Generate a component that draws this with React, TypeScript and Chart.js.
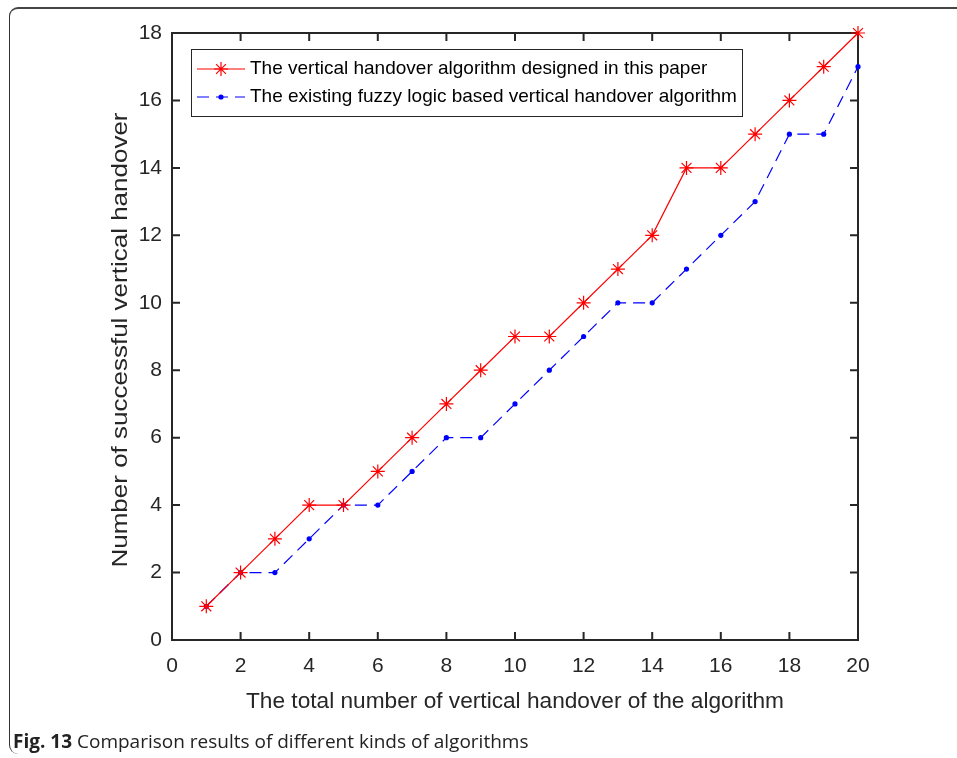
import React, { useEffect, useRef } from "react";
import { Chart, registerables } from "chart.js";

Chart.register(...registerables);

const xValues = [1, 2, 3, 4, 5, 6, 7, 8, 9, 10, 11, 12, 13, 14, 15, 16, 17, 18, 19, 20];
const proposedValues = [1, 2, 3, 4, 4, 5, 6, 7, 8, 9, 9, 10, 11, 12, 14, 14, 15, 16, 17, 18];
const existingValues = [1, 2, 2, 3, 4, 4, 5, 6, 6, 7, 8, 9, 10, 10, 11, 12, 13, 15, 15, 17];
const xTickValues = [0, 2, 4, 6, 8, 10, 12, 14, 16, 18, 20];
const yTickValues = [0, 2, 4, 6, 8, 10, 12, 14, 16, 18];

const proposedLabel = "The vertical handover algorithm designed in this paper";
const existingLabel = "The existing fuzzy logic based vertical handover algorithm";
const xTitle = "The total number of vertical handover of the algorithm";
const yTitle = "Number of successful vertical handover";

const AXIS_COLOR = "#262626";
const FONT = "'Liberation Sans', Arial, sans-serif";

const boxPlugin = {
  id: "matlabBox",
  beforeDatasetsDraw(chart: any) {
    const { ctx, chartArea, scales } = chart;
    const { left, right, top, bottom } = chartArea;
    ctx.save();
    ctx.strokeStyle = AXIS_COLOR;
    ctx.lineWidth = 2;
    ctx.strokeRect(left, top, right - left, bottom - top);
    const tl = 8;
    ctx.beginPath();
    xTickValues.forEach((v) => {
      const x = scales.x.getPixelForValue(v);
      ctx.moveTo(x, bottom);
      ctx.lineTo(x, bottom - tl);
      ctx.moveTo(x, top);
      ctx.lineTo(x, top + tl);
    });
    yTickValues.forEach((v) => {
      const y = scales.y.getPixelForValue(v);
      ctx.moveTo(left, y);
      ctx.lineTo(left + tl, y);
      ctx.moveTo(right, y);
      ctx.lineTo(right - tl, y);
    });
    ctx.stroke();

    // axis titles
    ctx.fillStyle = AXIS_COLOR;
    ctx.textAlign = "center";
    ctx.textBaseline = "middle";
    ctx.font = `22px ${FONT}`;
    const xw = ctx.measureText(xTitle).width;
    ctx.save();
    ctx.translate((left + right) / 2, 702);
    ctx.scale(538 / xw, 1);
    ctx.fillText(xTitle, 0, 0);
    ctx.restore();

    const yw = ctx.measureText(yTitle).width;
    ctx.save();
    ctx.translate(121, 340);
    ctx.rotate(-Math.PI / 2);
    ctx.scale(455 / yw, 1);
    ctx.fillText(yTitle, 0, 0);
    ctx.restore();
    ctx.restore();
  },
  afterDatasetsDraw(chart: any) {
    const { ctx } = chart;
    const bx = 191, by = 49, bw = 551, bh = 67;
    ctx.save();
    ctx.fillStyle = "#ffffff";
    ctx.fillRect(bx, by, bw, bh);
    ctx.strokeStyle = AXIS_COLOR;
    ctx.lineWidth = 1;
    ctx.strokeRect(bx + 0.5, by + 0.5, bw, bh);

    const r1 = 69, r2 = 97;
    // red row
    ctx.strokeStyle = "#ff0000";
    ctx.lineWidth = 1.2;
    ctx.beginPath();
    ctx.moveTo(197, r1);
    ctx.lineTo(245, r1);
    ctx.stroke();
    const cx = 221, r = 7;
    ctx.beginPath();
    ctx.moveTo(cx - r, r1);
    ctx.lineTo(cx + r, r1);
    ctx.moveTo(cx, r1 - r);
    ctx.lineTo(cx, r1 + r);
    const d = r * Math.SQRT1_2;
    ctx.moveTo(cx - d, r1 - d);
    ctx.lineTo(cx + d, r1 + d);
    ctx.moveTo(cx - d, r1 + d);
    ctx.lineTo(cx + d, r1 - d);
    ctx.stroke();
    // blue row
    ctx.strokeStyle = "#0000ff";
    ctx.setLineDash([12, 7]);
    ctx.beginPath();
    ctx.moveTo(197, r2);
    ctx.lineTo(245, r2);
    ctx.stroke();
    ctx.setLineDash([]);
    ctx.fillStyle = "#0000ff";
    ctx.beginPath();
    ctx.arc(cx, r2, 2.6, 0, Math.PI * 2);
    ctx.fill();

    ctx.fillStyle = "#000000";
    ctx.font = `19px ${FONT}`;
    ctx.textAlign = "left";
    ctx.textBaseline = "middle";
    ctx.fillText(proposedLabel, 250, r1);
    ctx.fillText(existingLabel, 250, r2);
    ctx.restore();
  },
};

export default function App() {
  const canvasRef = useRef<HTMLCanvasElement | null>(null);

  useEffect(() => {
    const canvas = canvasRef.current;
    if (!canvas) return;
    const chart = new Chart(canvas, {
      type: "line",
      data: {
        datasets: [
          {
            label: proposedLabel,
            data: xValues.map((x, i) => ({ x, y: proposedValues[i] })),
            borderColor: "#ff0000",
            backgroundColor: "#ff0000",
            borderWidth: 1.2,
            pointStyle: "star",
            pointRadius: 7,
            pointBorderWidth: 1.2,
            pointBorderColor: "#ff0000",
            tension: 0,
            clip: false as any,
          },
          {
            label: existingLabel,
            data: xValues.map((x, i) => ({ x, y: existingValues[i] })),
            borderColor: "#0000ff",
            backgroundColor: "#0000ff",
            borderWidth: 1.2,
            borderDash: [12, 7],
            pointStyle: "circle",
            pointRadius: 2.6,
            pointBorderWidth: 0,
            pointBackgroundColor: "#0000ff",
            tension: 0,
            clip: false as any,
          },
        ],
      },
      options: {
        animation: false,
        responsive: false,
        maintainAspectRatio: false,
        layout: { padding: { left: 0, right: 99, top: 33, bottom: 0 } },
        plugins: {
          legend: { display: false },
          tooltip: { enabled: false },
        },
        scales: {
          x: {
            type: "linear",
            min: 0,
            max: 20,
            afterBuildTicks: (scale: any) => {
              scale.ticks = xTickValues.map((v) => ({ value: v }));
            },
            afterFit: (scale: any) => {
              scale.height = 118;
            },
            grid: { display: false, drawTicks: false },
            border: { display: false },
            ticks: {
              color: AXIS_COLOR,
              font: { family: FONT, size: 21 },
              padding: 14,
              maxRotation: 0,
              autoSkip: false,
            },
          },
          y: {
            type: "linear",
            min: 0,
            max: 18,
            afterBuildTicks: (scale: any) => {
              scale.ticks = yTickValues.map((v) => ({ value: v }));
            },
            afterFit: (scale: any) => {
              scale.width = 172;
            },
            grid: { display: false, drawTicks: false },
            border: { display: false },
            ticks: {
              color: AXIS_COLOR,
              font: { family: FONT, size: 21 },
              padding: 10,
              autoSkip: false,
            },
          },
        },
      },
      plugins: [boxPlugin],
    } as any);
    return () => chart.destroy();
  }, []);

  return (
    <div style={{ position: "absolute", left: 0, top: 0, width: 957, height: 758, background: "#fff", overflow: "hidden" }}>
      <div
        style={{
          position: "absolute",
          left: 9,
          top: 7,
          width: 960,
          height: 747,
          borderLeft: "1.6px solid #333",
          borderTop: "2px solid #444",
          borderTopLeftRadius: 9,
          borderBottomLeftRadius: 9,
          boxSizing: "border-box",
        }}
      />
      <canvas ref={canvasRef} width={957} height={758} style={{ position: "absolute", left: 0, top: 0, width: 957, height: 758 }} />
      <div
        style={{
          position: "absolute",
          left: 13,
          top: 728,
          fontFamily: "'Open Sans', sans-serif",
          fontSize: 19,
          lineHeight: "26px",
          color: "#222",
          whiteSpace: "nowrap",
        }}
      >
        <b>Fig. 13</b> Comparison results of different kinds of algorithms
      </div>
    </div>
  );
}
